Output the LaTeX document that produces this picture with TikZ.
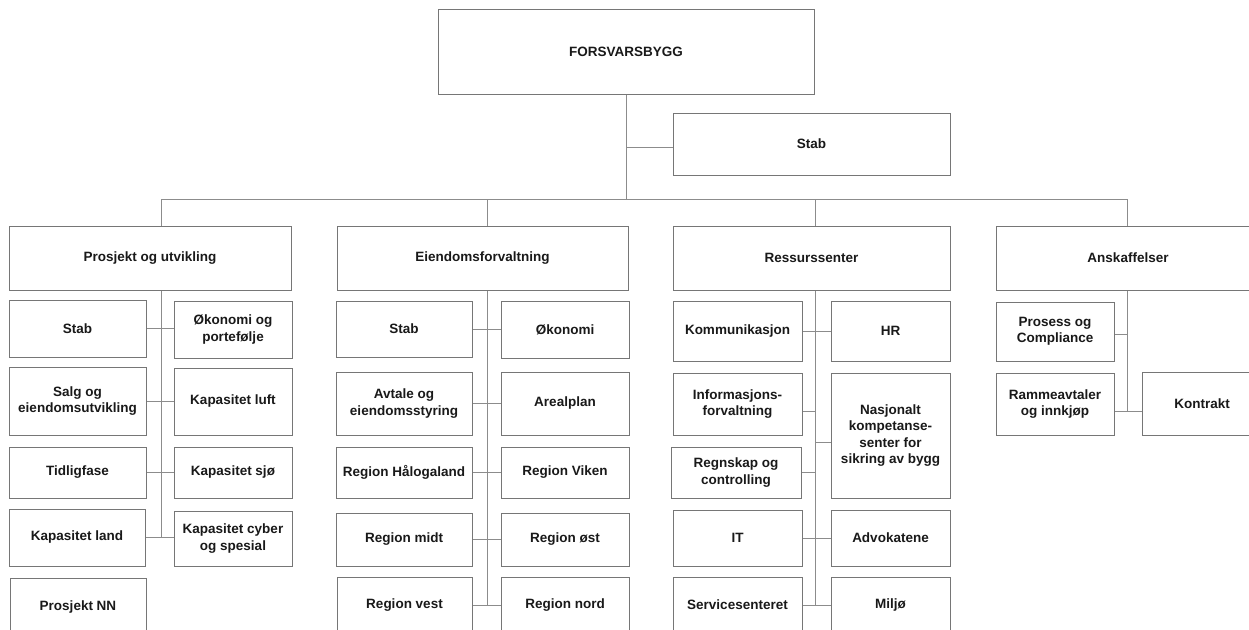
\documentclass[tikz,border=0pt]{standalone}
\usepackage{fontspec}
\setmainfont{Liberation Sans}
\usetikzlibrary{calc}
\definecolor{bordc}{RGB}{118,118,118}
\definecolor{connc}{RGB}{140,140,140}
\definecolor{txtc}{RGB}{25,25,25}
\tikzset{
  box/.style={draw=bordc, line width=1pt, inner sep=0pt, align=center, text=txtc,
    font=\bfseries\fontsize{13.5}{16.5}\selectfont},
  conn/.style={draw=connc, line width=1pt}
}
\newcommand\bx[6]{\node[box, minimum width={(#4-#2)*1pt}, minimum height={(#5-#3)*1pt}] (#1) at ({(#2+#4)/2},{(#3+#5)/2}) {#6};}
\begin{document}
\begin{tikzpicture}[x=1pt,y=-1pt]
\fill[white] (0,0) rectangle (1249,629);
\clip (0,0) rectangle (1249,629);
% top
\bx{top}{438}{9}{814}{94}{FORSVARSBYGG}
\bx{st}{673}{113}{950}{175}{Stab}
% level 2
\bx{pu}{9}{226}{291}{290}{Prosjekt og utvikling}
\bx{ef}{337}{226}{628}{290}{Eiendomsforvaltning}
\bx{rs}{673}{226}{950}{290}{Ressurssenter}
\bx{an}{996}{226}{1260}{290}{Anskaffelser}
% column 1
\bx{p1}{9}{300}{146}{357}{Stab}
\bx{p2}{174}{301}{292}{358}{Økonomi og\\portefølje}
\bx{p3}{9}{367}{146}{435}{Salg og\\eiendomsutvikling}
\bx{p4}{174}{368}{292}{435}{Kapasitet luft}
\bx{p5}{9}{447}{146}{498}{Tidligfase}
\bx{p6}{174}{447}{292}{498}{Kapasitet sjø}
\bx{p7}{9}{509}{145}{566}{Kapasitet land}
\bx{p8}{174}{511}{292}{566}{Kapasitet cyber\\og spesial}
\bx{p9}{10}{578}{146}{636}{Prosjekt NN}
% column 2
\bx{e1}{336}{301}{472}{357}{Stab}
\bx{e2}{501}{301}{629}{358}{Økonomi}
\bx{e3}{336}{372}{472}{435}{Avtale og\\eiendomsstyring}
\bx{e4}{501}{372}{629}{435}{Arealplan}
\bx{e5}{336}{447}{472}{498}{Region Hålogaland}
\bx{e6}{501}{447}{629}{498}{Region Viken}
\bx{e7}{336}{513}{472}{566}{Region midt}
\bx{e8}{501}{513}{629}{566}{Region øst}
\bx{e9}{337}{577}{472}{633}{Region vest}
\bx{e10}{501}{577}{629}{633}{Region nord}
% column 3
\bx{r1}{673}{301}{802}{361}{Kommunikasjon}
\bx{r2}{831}{301}{950}{361}{HR}
\bx{r3}{673}{373}{802}{435}{Informasjons-\\forvaltning}
\bx{r4}{831}{373}{950}{498}{Nasjonalt\\kompetanse-\\senter for\\sikring av bygg}
\bx{r5}{671}{447}{801}{498}{Regnskap og\\controlling}
\bx{r6}{673}{510}{802}{566}{IT}
\bx{r7}{831}{510}{950}{566}{Advokatene}
\bx{r8}{673}{577}{802}{633}{Servicesenteret}
\bx{r9}{831}{577}{950}{633}{Miljø}
% column 4
\bx{a1}{996}{302}{1114}{361}{Prosess og\\Compliance}
\bx{a2}{996}{373}{1114}{435}{Rammeavtaler\\og innkjøp}
\bx{a3}{1142}{372}{1262}{435}{Kontrakt}
% spine coordinates
\coordinate (bus) at (626,199);
\coordinate (s1) at (161,199);
\coordinate (s2) at (487,199);
\coordinate (s3) at (815,199);
\coordinate (s4) at (1127,199);
% top connectors
\draw[conn] (top.south) -- (bus);
\coordinate (stc) at ([yshift=-3pt]st.west);
\draw[conn] (stc -| top.south) -- (stc);
\draw[conn] (s1) -- (s4);
\draw[conn] (s1) -- (s1 |- pu.north);
\draw[conn] (s2) -- (s2 |- ef.north);
\draw[conn] (s3) -- (s3 |- rs.north);
\draw[conn] (s4) -- (s4 |- an.north);
% column 1
\draw[conn] (s1 |- pu.south) -- (s1 |- p7.east);
\foreach \a/\b in {p1/p2,p3/p4,p5/p6,p7/p8}
  \draw[conn] (\a.east) -- (\a.east -| \b.west);
% column 2
\draw[conn] (s2 |- ef.south) -- (s2 |- e9.east);
\foreach \a/\b in {e1/e2,e3/e4,e5/e6,e7/e8,e9/e10}
  \draw[conn] (\a.east) -- (\a.east -| \b.west);
% column 3
\draw[conn] (s3 |- rs.south) -- (s3 |- r8.east);
\foreach \a/\b in {r1/r2,r6/r7,r8/r9}
  \draw[conn] (\a.east) -- (\a.east -| \b.west);
\coordinate (r3c) at ([yshift=-7pt]r3.east);
\draw[conn] (r3c) -- (r3c -| s3);
\coordinate (r4c) at ([yshift=-7pt]r4.west);
\draw[conn] (r4c -| s3) -- (r4c);
\draw[conn] (r5.east) -- (r5.east -| s3);
% column 4
\coordinate (a1c) at ([yshift=-3pt]a1.east);
\coordinate (a2c) at ([yshift=-7pt]a2.east);
\draw[conn] (s4 |- an.south) -- (s4 |- a2c);
\draw[conn] (a1c) -- (a1c -| s4);
\draw[conn] (a2c) -- (a2c -| a3.west);
\end{tikzpicture}
\end{document}
